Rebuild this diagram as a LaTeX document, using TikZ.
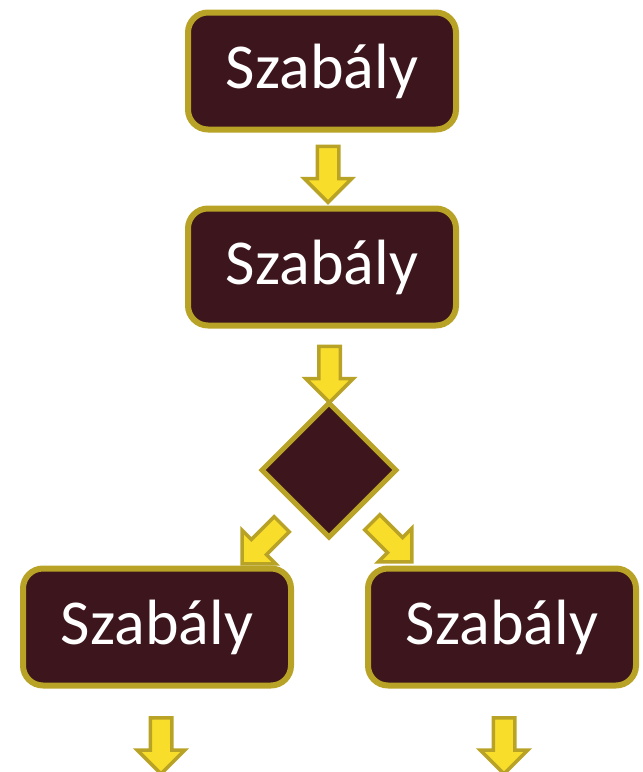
\documentclass[tikz,border=0pt]{standalone}
\usepackage{fontspec}
\setmainfont{Carlito}
\usepackage{tikz}
\usepackage{xcolor}
\usetikzlibrary{shapes.arrows,shapes.geometric,calc}
\definecolor{box}{HTML}{3D151C}
\definecolor{rim}{HTML}{B9A326}
\definecolor{nyil}{HTML}{F9DD2B}
\tikzset{
  szabaly/.style={rectangle,rounded corners=20pt,draw=rim,line width=6pt,fill=box,
    minimum width=268pt,minimum height=117pt,text=white,font=\fontsize{64}{72}\selectfont},
  dont/.style={diamond,draw=rim,line width=5pt,fill=box,minimum width=136pt,minimum height=136pt,inner sep=0pt},
  nyilfej/.style={single arrow,draw=rim,line width=3.5pt,fill=nyil,inner xsep=0pt,inner ysep=9pt,
    minimum height=56pt,single arrow head extend=13pt,single arrow tip angle=90}
}

\begin{document}
\begin{tikzpicture}[x=1pt,y=-1pt]
            \useasboundingbox (0,0) rectangle (643,772);
            \node[szabaly] (r1) at (322,71) {Szabály};
            \node[szabaly] (r2) at (322,267) {Szabály};
            \node[dont] (d) at (329,470) {};
            \node[szabaly] (r3) at (157,627) {Szabály};
            \node[szabaly] (r4) at (502,627) {Szabály};
            % nyilak
            \node[nyilfej,rotate=-90] (a1) at ($(r1.south)!0.5!(r2.north)+(6,0)$) {};
            \node[nyilfej,rotate=-90] (a2) at ($(r2.south)!0.5!(d.north)+(4,5)$) {};
            \node[nyilfej,rotate=-135] (a3) at ($(d.south west)+(-28,35)$) {};
            \node[nyilfej,rotate=-45] (a4) at ($(d.south east)+(24,33)$) {};
            \node[nyilfej,rotate=-90] (a5) at ($(r3.south)+(4,52)$) {};
            \node[nyilfej,rotate=-90] (a6) at ($(r4.south)+(2,52)$) {};
        \end{tikzpicture}
\end{document}
